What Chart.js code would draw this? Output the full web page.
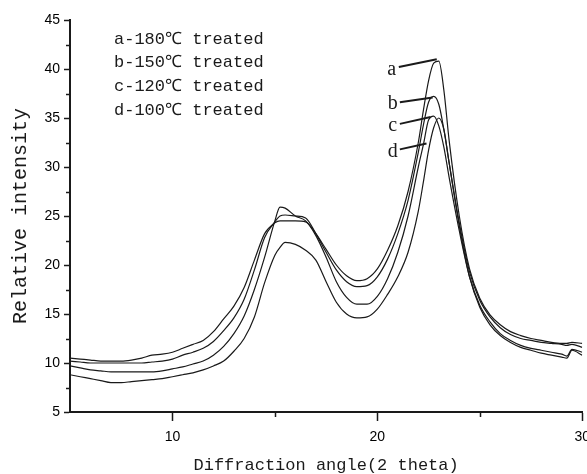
<!DOCTYPE html>
<html>
<head>
<meta charset="utf-8">
<script src="https://cdn.jsdelivr.net/npm/chart.js@4.4.1/dist/chart.umd.min.js"></script>
<style>
  html, body { margin: 0; padding: 0; background: #fff; overflow: hidden; }
  #wrap { width: 598px; height: 474px; }
</style>
</head>
<body>
<div id="wrap"><canvas id="xrd" width="598" height="474"></canvas></div>
<script>
// diffraction angle (2 theta), shared by all four curves
const angles = [5, 5.5, 6, 6.5, 7, 7.5, 8, 8.5, 9, 9.5, 10, 10.5, 11, 11.5, 12, 12.5, 13, 13.5, 14, 14.5,
    15, 15.25, 15.5, 16, 16.5, 17, 17.5, 18, 18.5, 19, 19.5, 20, 20.5, 21, 21.5, 22, 22.25, 22.5, 22.75, 23,
    23.25, 23.5, 24, 24.5, 25, 25.5, 26, 26.5, 27, 27.5, 28, 28.5, 29, 29.25, 29.5, 30];

// relative intensity
const curveA = [10.5, 10.4, 10.3, 10.2, 10.2, 10.2, 10.3, 10.5, 10.8, 10.9, 11.1, 11.5, 11.9, 12.3, 13.2, 14.5, 15.8, 17.7, 20.5, 23.2,
    24.3, 24.5, 24.5, 24.5, 24.4, 23.2, 21.6, 20.0, 18.9, 18.4, 18.6, 19.6, 21.5, 24.0, 27.5, 32.5, 35.8, 38.8, 40.6, 40.8,
    37.8, 32.8, 25.0, 19.6, 16.6, 14.9, 13.9, 13.2, 12.8, 12.5, 12.3, 12.1, 12.0, 12.0, 12.1, 12.0];
const curveB = [10.2, 10.1, 10.0, 10.0, 10.0, 10.0, 10.0, 10.0, 10.1, 10.2, 10.4, 10.8, 11.1, 11.5, 12.2, 13.3, 14.6, 16.5, 19.5, 22.8,
    24.4, 25.0, 25.1, 25.0, 24.8, 23.2, 21.3, 19.5, 18.3, 17.8, 17.9, 18.8, 20.6, 23.2, 26.6, 31.5, 34.3, 36.6, 37.2, 36.4,
    33.8, 30.5, 24.3, 19.3, 16.4, 14.7, 13.6, 12.9, 12.5, 12.3, 12.1, 12.0, 11.9, 11.8, 11.9, 11.6];
const curveC = [9.7, 9.5, 9.3, 9.2, 9.1, 9.1, 9.1, 9.1, 9.1, 9.2, 9.4, 9.6, 9.9, 10.2, 10.8, 11.7, 13.0, 14.8, 17.5, 20.8,
    24.5, 25.9, 25.8, 25.0, 24.5, 23.0, 20.8, 18.3, 16.7, 16.0, 16.0, 16.8, 18.6, 21.3, 25.0, 30.0, 32.3, 34.8, 35.2, 34.2,
    32.0, 29.0, 23.5, 18.8, 15.9, 14.2, 13.0, 12.3, 11.8, 11.5, 11.3, 11.1, 10.9, 10.7, 11.4, 11.1];
const curveD = [8.8, 8.6, 8.4, 8.2, 8.0, 8.0, 8.1, 8.2, 8.3, 8.4, 8.6, 8.8, 9.0, 9.3, 9.7, 10.2, 11.2, 12.5, 14.7, 18.2,
    21.0, 21.8, 22.3, 22.1, 21.5, 20.5, 18.3, 16.2, 15.0, 14.6, 14.7, 15.5, 17.0, 18.8, 21.3, 25.5, 28.5, 31.7, 34.0, 35.0,
    33.8, 30.5, 24.0, 18.8, 15.7, 13.9, 12.8, 12.1, 11.6, 11.3, 11.0, 10.8, 10.6, 10.5, 11.3, 10.8];

const legendLines = ['a-180\u2103 treated', 'b-150\u2103 treated', 'c-120\u2103 treated', 'd-100\u2103 treated'];

// curve labels and their leader lines, in data units
const markNames = ['a', 'b', 'c', 'd'];
const markTextAt = [[20.7, 39.9], [20.75, 36.5], [20.75, 34.2], [20.75, 31.6]];
const markLineFrom = [[21.05, 40.2], [21.1, 36.6], [21.1, 34.4], [21.1, 31.8]];
const markLineTo = [[22.9, 41.0], [22.7, 37.1], [22.6, 35.1], [22.4, 32.4]];

const xMajor = [10, 20, 30];
const xMinor = [15, 25];
const yMinor = [7.5, 12.5, 17.5, 22.5, 27.5, 32.5, 37.5, 42.5];

const ink = '#1a1a1a';

function toPoints(ys) {
    return angles.map((a, i) => ({ x: a, y: ys[i] }));
}

const curves = [curveA, curveB, curveC, curveD].map((ys, i) => ({
    label: markNames[i],
    data: toPoints(ys),
    borderColor: ink,
    borderWidth: 1.2,
    pointRadius: 0,
    fill: false,
    cubicInterpolationMode: 'monotone'
}));

const extrasPlugin = {
    id: 'extras',
    afterDraw(chart) {
        const ctx = chart.ctx;
        const xs = chart.scales.x;
        const ys = chart.scales.y;
        const area = chart.chartArea;
        ctx.save();
        ctx.strokeStyle = ink;

        // minor ticks
        ctx.lineWidth = 1.5;
        yMinor.forEach(v => {
            const py = Math.round(ys.getPixelForValue(v)) + 0.5;
            ctx.beginPath();
            ctx.moveTo(area.left - 4, py);
            ctx.lineTo(area.left, py);
            ctx.stroke();
        });
        xMinor.forEach(v => {
            const px = Math.round(xs.getPixelForValue(v)) + 0.5;
            ctx.beginPath();
            ctx.moveTo(px, area.bottom);
            ctx.lineTo(px, area.bottom + 5);
            ctx.stroke();
        });

        // text block at top left
        ctx.fillStyle = ink;
        ctx.font = '17px "Liberation Mono", monospace';
        ctx.textBaseline = 'middle';
        ctx.textAlign = 'left';
        legendLines.forEach((t, i) => {
            ctx.fillText(t, 114, 39 + i * 23.8);
        });

        // a, b, c, d with leader lines
        ctx.font = '20px "Liberation Serif", serif';
        ctx.textAlign = 'center';
        ctx.lineWidth = 2;
        markNames.forEach((n, i) => {
            ctx.fillText(n, xs.getPixelForValue(markTextAt[i][0]), ys.getPixelForValue(markTextAt[i][1]));
            ctx.beginPath();
            ctx.moveTo(xs.getPixelForValue(markLineFrom[i][0]), ys.getPixelForValue(markLineFrom[i][1]));
            ctx.lineTo(xs.getPixelForValue(markLineTo[i][0]), ys.getPixelForValue(markLineTo[i][1]));
            ctx.stroke();
        });
        ctx.restore();
    }
};

new Chart(document.getElementById('xrd'), {
    type: 'line',
    data: { datasets: curves },
    options: {
        responsive: false,
        animation: false,
        layout: { padding: { left: 0, top: 20, right: 0, bottom: 0 } },
        plugins: { legend: { display: false }, tooltip: { enabled: false } },
        scales: {
            x: {
                type: 'linear',
                min: 5,
                max: 30,
                afterBuildTicks: scale => { scale.ticks = xMajor.map(v => ({ value: v })); },
                afterFit: scale => { scale.height = 62; },
                grid: { drawOnChartArea: false, tickLength: 9, tickWidth: 1.5, tickColor: ink },
                border: { display: true, color: ink, width: 2 },
                ticks: {
                    color: '#000',
                    padding: 8,
                    maxRotation: 0,
                    font: { family: '"Liberation Sans", Arial, sans-serif', size: 14 }
                },
                title: {
                    display: true,
                    text: 'Diffraction angle(2 theta)',
                    color: ink,
                    padding: { top: 0, bottom: 0 },
                    font: { family: '"Liberation Mono", monospace', size: 17, lineHeight: 1 }
                }
            },
            y: {
                min: 5,
                max: 45,
                ticks: {
                    stepSize: 5,
                    color: '#000',
                    padding: 4,
                    font: { family: '"Liberation Sans", Arial, sans-serif', size: 14 }
                },
                afterFit: scale => { scale.width = 70; },
                grid: { drawOnChartArea: false, tickLength: 6, tickWidth: 1.5, tickColor: ink },
                border: { display: true, color: ink, width: 2 },
                title: {
                    display: true,
                    text: 'Relative intensity',
                    color: ink,
                    padding: { top: 11, bottom: 0 },
                    font: { family: '"Liberation Mono", monospace', size: 20, lineHeight: 1 }
                }
            }
        }
    },
    plugins: [extrasPlugin]
});
</script>
</body>
</html>
